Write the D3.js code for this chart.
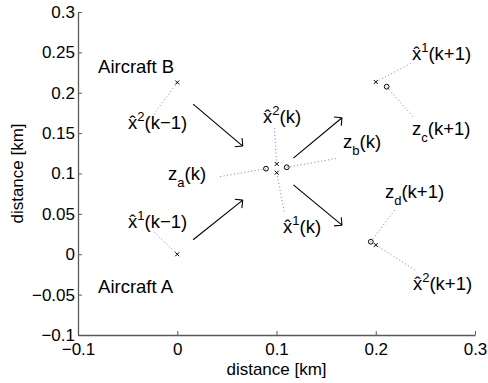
<!DOCTYPE html>
<html>
<head>
<meta charset="utf-8">
<script src="https://cdn.jsdelivr.net/npm/d3@7"></script>
<style>
  body { margin: 0; background: #fff; }
  svg text { font-family: "Liberation Sans", Arial, Helvetica, sans-serif; fill: #000; }
</style>
</head>
<body>
<div id="chart"></div>
<script>
// axis ticks
const xTicks = [-0.1, 0, 0.1, 0.2, 0.3];
const xTickLabels = ['\u22120.1', '0', '0.1', '0.2', '0.3'];
const yTicks = [-0.1, -0.05, 0, 0.05, 0.1, 0.15, 0.2, 0.25, 0.3];
const yTickLabels = ['\u22120.1', '\u22120.05', '0', '0.05', '0.1', '0.15', '0.2', '0.25', '0.3'];

// estimates (x) and measurements (o), km
const crossPts = [[0, 0.2127], [0, 0], [0.1002, 0.1118], [0.1002, 0.101], [0.2, 0.2133], [0.2, 0.0115]];
const circlePts = [[0.0894, 0.106], [0.1103, 0.1077], [0.211, 0.2075], [0.195, 0.0155]];

// dotted leaders: point -> label
const leaders = [
  [[0, 0.2127], [-0.0245, 0.172]],
  [[0, 0], [-0.0254, 0.030]],
  [[0.0894, 0.106], [0.041, 0.0957]],
  [[0.1002, 0.1118], [0.0979, 0.156]],
  [[0.1002, 0.101], [0.108, 0.051]],
  [[0.1103, 0.1077], [0.162, 0.119]],
  [[0.2, 0.2133], [0.2376, 0.238]],
  [[0.211, 0.2075], [0.2376, 0.170]],
  [[0.195, 0.0155], [0.219, 0.0548]],
  [[0.2, 0.0115], [0.2395, -0.0195]]
];

// arrows between time steps
const arrows = [
  [[0.016, 0.186], [0.066, 0.134]],
  [[0.016, 0.018], [0.066, 0.067]],
  [[0.117, 0.119], [0.166, 0.169]],
  [[0.117, 0.086], [0.166, 0.036]]
];

// annotations: [x, y, base, hat, sup, sub, rest]
const labels = [
  [-0.0798, 0.2244, 'Aircraft B', false, '', '', ''],
  [-0.0798, -0.048, 'Aircraft A', false, '', '', ''],
  [-0.0496, 0.155, 'x', true, '2', '', '(k\u22121)'],
  [-0.0496, 0.0325, 'x', true, '1', '', '(k\u22121)'],
  [-0.0093, 0.092, 'z', false, '', 'a', '(k)'],
  [0.0864, 0.1626, 'x', true, '2', '', '(k)'],
  [0.1066, 0.0263, 'x', true, '1', '', '(k)'],
  [0.167, 0.1316, 'z', false, '', 'b', '(k)'],
  [0.2365, 0.2405, 'x', true, '1', '', '(k+1)'],
  [0.2365, 0.1477, 'z', false, '', 'c', '(k+1)'],
  [0.2093, 0.0697, 'z', false, '', 'd', '(k+1)'],
  [0.2375, -0.0443, 'x', true, '2', '', '(k+1)']
];

const W = 488, H = 383;
const MARGIN = {top: 12, right: 13, bottom: 48, left: 78};

const svg = d3.select('#chart').append('svg')
  .attr('width', W)
  .attr('height', H);

svg.append('rect').attr('width', W).attr('height', H).attr('fill', '#fff');

const x = d3.scaleLinear().domain([-0.1, 0.3]).range([MARGIN.left, W - MARGIN.right]);
const y = d3.scaleLinear().domain([-0.1, 0.3]).range([H - MARGIN.bottom, MARGIN.top]);

const axisColor = '#5a5a5a';

const xAxis = d3.axisBottom(x)
  .tickValues(xTicks)
  .tickFormat((d, i) => xTickLabels[i])
  .tickSizeInner(-4).tickSizeOuter(0).tickPadding(8);

const yAxis = d3.axisLeft(y)
  .tickValues(yTicks)
  .tickFormat((d, i) => yTickLabels[i])
  .tickSizeInner(-4).tickSizeOuter(0).tickPadding(3);

const gx = svg.append('g')
  .attr('transform', 'translate(0,' + y(-0.1) + ')')
  .call(xAxis);
const gy = svg.append('g')
  .attr('transform', 'translate(' + x(-0.1) + ',0)')
  .call(yAxis);

[gx, gy].forEach(g => {
  g.select('.domain').attr('stroke', axisColor).attr('stroke-width', 1.3);
  g.selectAll('.tick line').attr('stroke', axisColor);
  g.selectAll('.tick text')
    .attr('font-size', 17)
    .attr('font-family', '"Liberation Sans", Arial, sans-serif')
    .attr('fill', '#000');
});

svg.append('text')
  .attr('x', (x(-0.1) + x(0.3)) / 2)
  .attr('y', 375)
  .attr('text-anchor', 'middle')
  .attr('font-size', 17)
  .text('distance [km]');

svg.append('text')
  .attr('transform', 'translate(23,' + (y(-0.1) + y(0.3)) / 2 + ') rotate(-90)')
  .attr('text-anchor', 'middle')
  .attr('font-size', 17)
  .text('distance [km]');

// dotted leaders
svg.append('g').selectAll('line')
  .data(leaders)
  .join('line')
  .attr('x1', d => x(d[0][0])).attr('y1', d => y(d[0][1]))
  .attr('x2', d => x(d[1][0])).attr('y2', d => y(d[1][1]))
  .attr('stroke', '#5555ff')
  .attr('stroke-width', 1)
  .attr('stroke-dasharray', '1,2.5')
  .attr('opacity', 0.8);

// arrows
const HEAD = 8;
const ag = svg.append('g').attr('stroke', '#000').attr('stroke-width', 1.1).attr('fill', 'none');
arrows.forEach(a => {
  const x0 = x(a[0][0]), y0 = y(a[0][1]), x1 = x(a[1][0]), y1 = y(a[1][1]);
  const ang = Math.atan2(y0 - y1, x0 - x1);
  const p = d3.path();
  p.moveTo(x0, y0);
  p.lineTo(x1, y1);
  [-Math.PI / 4, Math.PI / 4].forEach(da => {
    p.moveTo(x1 + HEAD * Math.cos(ang + da), y1 + HEAD * Math.sin(ang + da));
    p.lineTo(x1, y1);
  });
  ag.append('path').attr('d', p.toString());
});

// markers
svg.append('g').selectAll('path')
  .data(crossPts)
  .join('path')
  .attr('d', d => {
    const cx = x(d[0]), cy = y(d[1]), s = 2;
    return `M${cx - s},${cy - s}L${cx + s},${cy + s}M${cx - s},${cy + s}L${cx + s},${cy - s}`;
  })
  .attr('stroke', '#000')
  .attr('stroke-width', 1);

svg.append('g').selectAll('circle')
  .data(circlePts)
  .join('circle')
  .attr('cx', d => x(d[0]))
  .attr('cy', d => y(d[1]))
  .attr('r', 2.4)
  .attr('fill', 'none')
  .attr('stroke', '#000')
  .attr('stroke-width', 1);

// annotation text
labels.forEach(l => {
  const t = svg.append('text')
    .attr('x', x(l[0]))
    .attr('y', y(l[1]))
    .attr('font-size', 18.5);
  t.append('tspan').text(l[3] ? l[2] + '\u0302' : l[2]);
  if (l[4]) t.append('tspan').attr('font-size', 13).attr('dy', -8).text(l[4]);
  if (l[5]) t.append('tspan').attr('font-size', 13).attr('dy', 7).text(l[5]);
  if (l[6]) {
    const back = l[4] ? 8 : (l[5] ? -7 : 0);
    t.append('tspan').attr('dy', back).text(l[6]);
  }
});
</script>
</body>
</html>
